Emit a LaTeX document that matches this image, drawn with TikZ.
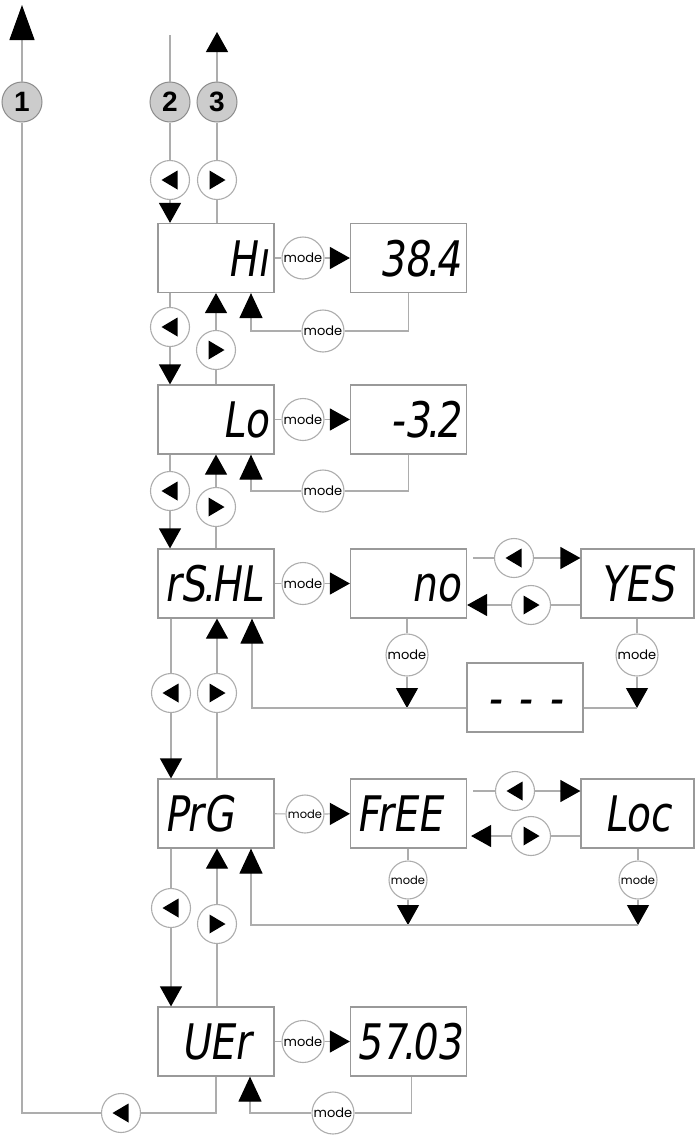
\documentclass[tikz,border=0pt]{standalone}
\usepackage{fontspec}
\usetikzlibrary{arrows.meta,calc}
\newfontfamily\segfont[FakeSlant=0.15,FakeStretch=0.8]{DejaVu Sans}
\newfontfamily\modefont{Poppins}
\newfontfamily\numfont{Liberation Sans}
\definecolor{lc}{gray}{0.68}
\definecolor{bc}{gray}{0.6}
\definecolor{nf}{gray}{0.8}
\definecolor{nb}{gray}{0.55}
\newcommand\sdot{\kern-3pt.\kern-3pt}
\begin{document}
\begin{tikzpicture}[x=1pt,y=-1pt,
 ln/.style={draw=lc, line width=1.2pt},
 arr/.style={-{Triangle[width=22pt,length=20pt,color=black]}},
 arrbig/.style={-{Triangle[width=23pt,length=25pt,color=black]}},
 disp/.style={draw=bc, line width=1.2pt, fill=white, minimum height=69pt, text width=104pt, inner xsep=6pt, inner ysep=0pt, text height=36pt, text depth=0pt, font=\segfont\fontsize{49}{49}\selectfont, align=right},
 dispn/.style={disp, text width=101pt},
 btn/.style={circle, draw=lc, line width=1.1pt, fill=white, minimum size=39pt, inner sep=0pt},
 btnL/.style={btn, path picture={\fill[black] ([xshift=-8.5pt]path picture bounding box.center) -- ++(16,-9.5) -- ++(0,19) -- cycle;}},
 btnR/.style={btn, path picture={\fill[black] ([xshift=8.5pt]path picture bounding box.center) -- ++(-16,-9.5) -- ++(0,19) -- cycle;}},
 modec/.style={circle, draw=lc, line width=1.1pt, fill=white, minimum size=42pt, inner sep=0pt, font=\modefont\fontsize{13}{13}\selectfont},
 modes/.style={modec, minimum size=38pt, font=\modefont\fontsize{11.5}{11.5}\selectfont},
 numc/.style={circle, draw=nb, fill=nf, line width=1pt, minimum size=40pt, inner sep=0pt, font=\numfont\bfseries\fontsize{28}{28}\selectfont}
]
\useasboundingbox (0,0) rectangle (695,1135);

% displays
\node[disp] (hi) at (216,258) {Hı\hspace*{10pt}};
\node[disp] (v384) at (408.5,258) {38\sdot 4};
\node[disp] (lo) at (216,419.5) {Lo};
\node[disp] (v32) at (408.5,419.5) {-3\sdot 2};
\node[disp, align=left] (rs) at (216,583.5) {rS\sdot HL};
\node[disp] (no) at (408.5,583.5) {no\hspace*{14pt}};
\node[dispn, align=center] (yes) at (637.5,583.5) {YES};
\node[disp, align=center] (dash) at (525,697.5) {- - -};
\node[disp, align=left] (prg) at (216,813.5) {PrG};
\node[disp, align=left] (free) at (408.5,813.5) {FrEE};
\node[dispn, align=center] (loc) at (637.5,813.5) {Loc};
\node[disp, align=center] (uer) at (216,1041.5) {UEr};
\node[disp, align=center] (v5703) at (408.5,1041.5) {57\kern-1pt\sdot 03};

% numbered circles
\node[numc] (n1) at (22,102) {1};
\node[numc] (n2) at (170,102) {2};
\node[numc] (n3) at (217,102) {3};
\coordinate (top1) at (22,5);
\coordinate (top2) at (170,35);
\coordinate (top3) at (217,32);

% buttons on the vertical chain
\node[btnL] (bL0) at (170,180) {};
\node[btnR] (bR0) at (217,180) {};
\node[btnL] (bL1) at (170,327) {};
\node[btnR] (bR1) at (216,350) {};
\node[btnL] (bL2) at (170,491) {};
\node[btnR] (bR2) at (216,507) {};
\node[btnL] (bL3) at (171,693) {};
\node[btnR] (bR3) at (217,693) {};
\node[btnL] (bL4) at (171,908) {};
\node[btnR] (bR4) at (217,924) {};
\node[btnL] (bL5) at (121,1113) {};

% top
\draw[ln] (top2) -- (n2);
\draw[ln] (n2) -- (bL0);
\draw[ln,arr] (bL0) -- (bL0 |- hi.north);
\draw[ln] (hi.north -| bR0) -- (bR0);
\draw[ln] (bR0) -- (n3);
\draw[ln,arr] (n3) -- (top3);

% hi <-> lo
\draw[ln] (hi.south -| bL1) -- (bL1);
\draw[ln,arr] (bL1) -- (bL1 |- lo.north);
\draw[ln] (lo.north -| bR1) -- (bR1);
\draw[ln,arr] (bR1) -- (bR1 |- hi.south);

% lo <-> rs
\draw[ln] (lo.south -| bL2) -- (bL2);
\draw[ln,arr] (bL2) -- (bL2 |- rs.north);
\draw[ln] (rs.north -| bR2) -- (bR2);
\draw[ln,arr] (bR2) -- (bR2 |- lo.south);

% rs <-> prg
\draw[ln] (rs.south -| bL3) -- (bL3);
\draw[ln,arr] (bL3) -- (bL3 |- prg.north);
\draw[ln] (prg.north -| bR3) -- (bR3);
\draw[ln,arr] (bR3) -- (bR3 |- rs.south);

% prg <-> uer
\draw[ln] (prg.south -| bL4) -- (bL4);
\draw[ln,arr] (bL4) -- (bL4 |- uer.north);
\draw[ln] (uer.north -| bR4) -- (bR4);
\draw[ln,arr] (bR4) -- (bR4 |- prg.south);

% back to 1
\draw[ln] (uer.south) |- (bL5);
\draw[ln] (bL5) -| (n1);
\draw[ln,-{Triangle[width=25pt,length=35pt,color=black]}] (n1) -- (top1);

% Hi row
\node[modec] (m1) at (303,258) {mode};
\draw[ln] (hi) -- (m1);
\draw[ln,arr] (m1) -- (v384);
\node[modec] (m1b) at (323,331) {mode};
\draw[ln] (v384.south) |- (m1b);
\draw[ln,arrbig] (m1b) -| ([xshift=35pt]hi.south);

% Lo row
\node[modec] (m2) at (303,419.5) {mode};
\draw[ln] (lo) -- (m2);
\draw[ln,arr] (m2) -- (v32);
\node[modec] (m2b) at (323,491) {mode};
\draw[ln] (v32.south) |- (m2b);
\draw[ln,arrbig] (m2b) -| ([xshift=35pt]lo.south);

% rS.HL row
\node[modec] (m3) at (303,583.5) {mode};
\draw[ln] (rs) -- (m3);
\draw[ln,arr] (m3) -- (no);
\node[btnL] (c3L) at (514,558) {};
\node[btnR] (c3R) at (531,605) {};
\draw[ln,shorten <=6pt] (no.east |- c3L) -- (c3L);
\draw[ln,arr] (c3L) -- (yes.west |- c3L);
\draw[ln] (yes.west |- c3R) -- (c3R);
\draw[ln,arr] (c3R) -- (no.east |- c3R);
\node[modec] (m3n) at (407,655) {mode};
\node[modec] (m3y) at (637,655) {mode};
\coordinate (ret3) at (252,708);
\draw[ln] (no.south -| m3n) -- (m3n);
\draw[ln,arr] (m3n) -- (m3n |- ret3);
\draw[ln] (yes.south -| m3y) -- (m3y);
\draw[ln,arr] (m3y) -- (m3y |- ret3);
\draw[ln] (dash.east |- ret3) -- (m3y |- ret3);
\draw[ln,arrbig] (dash.west |- ret3) -| ([xshift=36pt]rs.south);

% PrG row
\node[modes] (m4) at (305,814) {mode};
\draw[ln] (prg) -- (m4);
\draw[ln,arr] (m4) -- (free);
\node[btnL] (c4L) at (515,791) {};
\node[btnR] (c4R) at (531,836) {};
\draw[ln,shorten <=6pt] (free.east |- c4L) -- (c4L);
\draw[ln,arr] (c4L) -- (loc.west |- c4L);
\draw[ln] (loc.west |- c4R) -- (c4R);
\draw[ln,arr,shorten >=4pt] (c4R) -- (free.east |- c4R);
\node[modes] (m4f) at (408,880) {mode};
\node[modes] (m4l) at (638,880) {mode};
\coordinate (ret4) at (251,925);
\draw[ln] (free.south -| m4f) -- (m4f);
\draw[ln,arr] (m4f) -- (m4f |- ret4);
\draw[ln] (loc.south -| m4l) -- (m4l);
\draw[ln,arr] (m4l) -- (m4l |- ret4);
\draw[ln,arrbig] (m4l |- ret4) -| ([xshift=35pt]prg.south);

% UEr row
\node[modec] (m5) at (303,1041.5) {mode};
\draw[ln] (uer) -- (m5);
\draw[ln,arr] (m5) -- (v5703);
\node[modec] (m5b) at (333,1113) {mode};
\draw[ln] ([xshift=3pt]v5703.south) |- (m5b);
\draw[ln,arrbig] (m5b) -| ([xshift=34pt]uer.south);
\end{tikzpicture}
\end{document}
